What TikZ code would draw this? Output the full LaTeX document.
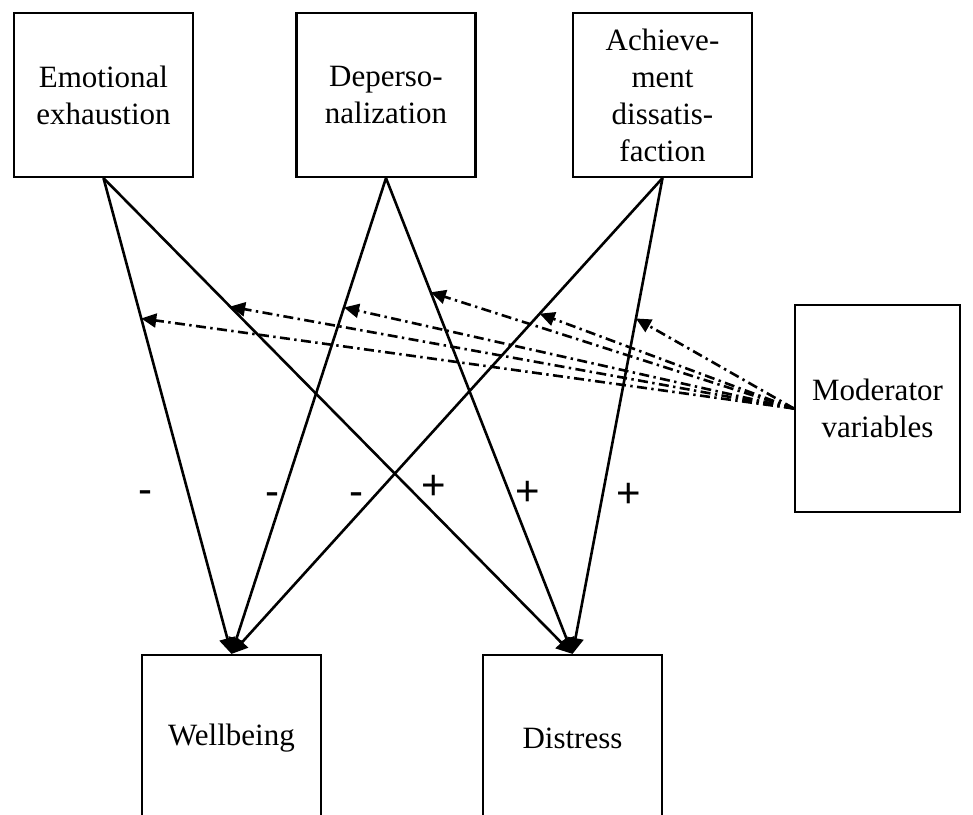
\documentclass[tikz,border=0pt]{standalone}
\usepackage{fontspec}
\setmainfont{Liberation Serif}
\newfontfamily\signfont{Liberation Sans}
\usetikzlibrary{arrows.meta}

\begin{document}
\begin{tikzpicture}[x=0.5pt, y=-0.5pt, font=\fontsize{15.5}{18.5}\selectfont,
  link/.style={line width=1.3pt, -{Triangle[length=8pt,width=8pt]}},
  modlink/.style={line width=1.3pt, dash pattern=on 5pt off 2.2pt on 1.2pt off 2.2pt, -{Triangle[length=7.5pt,width=7pt]}},
  sign/.style={font=\signfont\fontsize{21}{24}\selectfont, inner sep=0pt}]
\useasboundingbox (0,0) rectangle (973,814);
  \begin{scope}[every node/.style={rectangle,draw,line width=1.1pt,align=center,inner sep=0pt,minimum width=89.5pt,minimum height=82pt}]
\node (emo) at (103.5,95) {Emotional\\exhaustion};
\node (dep) at (386,95) {Deperso-\\nalization};
\node (ach) at (662.5,95) {Achieve-\\ment\\dissatis-\\faction};
\node[minimum width=82.5pt, minimum height=103.5pt] (mod) at (877.5,408.5) {Moderator\\variables};
\node[minimum height=83pt] (well) at (231.5,738) {Wellbeing};
\node[minimum height=83pt] (dis) at (572.5,738) {Distress};
\end{scope}

\draw[link] (emo.south) -- coordinate[pos=0.295] (m1) (well.north);
\draw[link] (emo.south) -- coordinate[pos=0.27] (m2) (dis.north);
\draw[link] (dep.south) -- coordinate[pos=0.272] (m3) (well.north);
\draw[link] (dep.south) -- coordinate[pos=0.24] (m4) (dis.north);
\draw[link] (ach.south) -- coordinate[pos=0.285] (m5) (well.north);
\draw[link] (ach.south) -- coordinate[pos=0.295] (m6) (dis.north);

\foreach \m in {m1,m2,m3,m4,m5,m6}
  \draw[modlink] (mod.west) -- (\m);

\node[sign] (s1) at (145,497) {-};
\node[sign] (s2) at (272,499) {-};
\node[sign] (s3) at (356,499) {-};
\node[sign] (s4) at (434,487) {+};
\node[sign] (s5) at (528,493) {+};
\node[sign] (s6) at (629,495) {+};
\end{tikzpicture}
\end{document}
